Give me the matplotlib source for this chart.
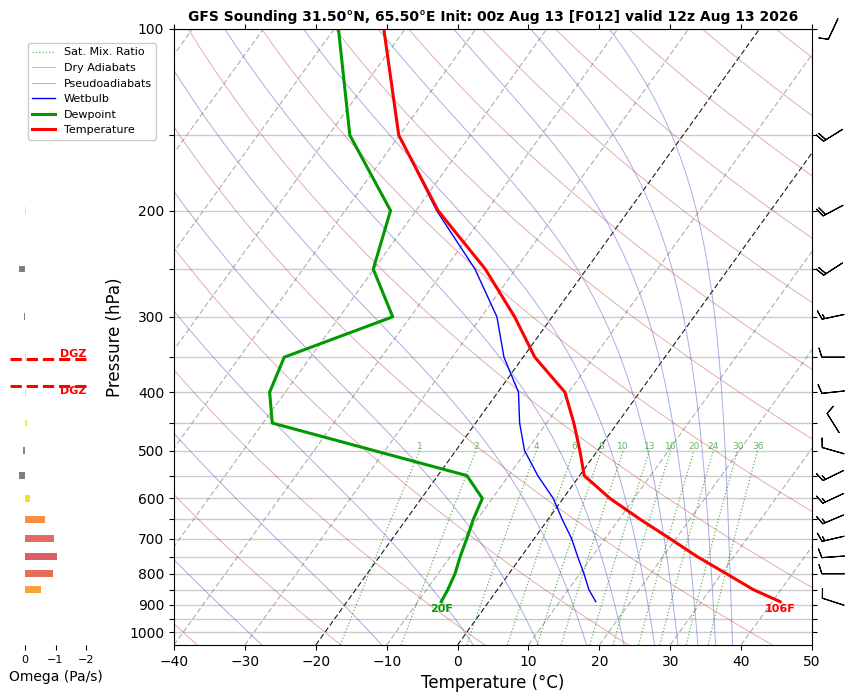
import numpy as np
import matplotlib
matplotlib.use('Agg')
from matplotlib import pyplot as plt
from matplotlib.ticker import FixedLocator, NullLocator

# ---- sounding data ----
pres = [100, 150, 200, 250, 300, 350, 400, 450, 500, 550, 600, 650, 700, 750, 800, 850, 890]
temp = [-73.0, -60.1, -46.9, -34.3, -25.3, -18.35, -10.55, -6.15, -2.5, 0.65, 6.6, 13.0, 19.2, 24.9, 30.7, 36.1, 41.1]
dewp = [-79.4, -67.0, -53.6, -50.1, -42.5, -53.7, -52.2, -48.7, -31.5, -15.9, -11.4, -10.55, -9.5, -8.6, -7.6, -7.0, -6.7]
wetb = [-73.0, -60.1, -47.1, -35.75, -27.8, -22.7, -17.1, -13.8, -10.3, -5.9, -1.4, 2.0, 5.3, 8.0, 10.6, 12.9, 15.1]

omega_p = [100, 150, 200, 250, 300, 350, 400, 450, 500, 550, 600, 650, 700, 750, 800, 850]
omega = [0.01, 0.0, -0.03, 0.2, 0.02, -0.05, -0.04, -0.08, 0.05, 0.2, -0.18, -0.67, -0.96, -1.06, -0.93, -0.54]

wind_p = [100, 150, 200, 250, 300, 350, 400, 450, 500, 550, 600, 650, 700, 750, 800, 890]
wind_dir = [205, 238, 242, 237, 258, 270, 264, 328, 286, 244, 245, 247, 257, 266, 270, 288]
wind_spd = [10, 20, 20, 20, 15, 10, 10, 10, 10, 15, 15, 15, 15, 10, 10, 10]

mix_ratios = [1, 2, 4, 6, 8, 10, 13, 16, 20, 24, 30, 36]
dry_thetas = list(range(-40, 221, 20))
pseudo_t0 = [-27.6, -10.7, 2.2, 11.4, 18.2, 23.5, 27.8, 31.1, 33.9, 36.4, 38.8]
isotherms = list(range(-120, 51, 10))

title = 'GFS Sounding 31.50\u00b0N, 65.50\u00b0E Init: 00z Aug 13 [F012] valid 12z Aug 13 2026'

P_BOT, P_TOP = 1050, 100
SKEW = 61.3


def skx(t, p):
    return np.asarray(t, float) + SKEW * np.log10(P_BOT / np.asarray(p, float))


def sat_vp(tc):
    return 6.112 * np.exp(17.67 * tc / (tc + 243.5))


def moist_rate(tk, p):
    es = sat_vp(tk - 273.15)
    rs = 0.622 * es / (p - es)
    return (287.04 * tk + 2.501e6 * rs) / (1005.7 + 2.501e6 ** 2 * rs * 0.622 / (287.04 * tk * tk))


def moist_line(t0, pp):
    lnp = np.log(pp)
    out = [t0 + 273.15]
    for i in range(len(pp) - 1):
        h = lnp[i + 1] - lnp[i]
        t = out[-1]
        p0, p1 = pp[i], pp[i + 1]
        pm = np.exp(0.5 * (lnp[i] + lnp[i + 1]))
        k1 = moist_rate(t, p0)
        k2 = moist_rate(t + 0.5 * h * k1, pm)
        k3 = moist_rate(t + 0.5 * h * k2, pm)
        k4 = moist_rate(t + h * k3, p1)
        out.append(t + h * (k1 + 2 * k2 + 2 * k3 + k4) / 6)
    return np.array(out) - 273.15


fig = plt.figure(figsize=(8.56, 6.92), dpi=100)

# ---- omega panel (added first so the legend sits above it) ----
oax = fig.add_axes([9.7 / 856, 47 / 692, 91.6 / 856, 616 / 692])
oax.set_yscale('log')
oax.set_ylim(P_BOT, P_TOP)
oax.set_xlim(0.5, -2.5)
cmap = plt.get_cmap('plasma')
cols = ['0.5' if w > 0 else cmap(1 - min(abs(w), 2.5) / 2.5) for w in omega]
oax.barh(omega_p, omega, height=[0.0256 * p for p in omega_p], color=cols)
for s in oax.spines.values():
    s.set_visible(False)
oax.yaxis.set_major_locator(NullLocator())
oax.yaxis.set_minor_locator(NullLocator())
oax.set_xticks([0, -1, -2])
oax.tick_params(axis='x', labelsize=8)
oax.set_xlabel('Omega (Pa/s)', fontsize=10)

lp = np.log10(pres)
p_dgz_top = 10 ** np.interp(-18, temp, lp)
p_dgz_bot = 10 ** np.interp(-12, temp, lp)
oax.plot([0.5, -2.0], [p_dgz_top, p_dgz_top], color='red', ls='--', lw=2.2)
oax.plot([0.5, -2.0], [p_dgz_bot, p_dgz_bot], color='red', ls='--', lw=2.2)
oax.text(-2.0, p_dgz_top, 'DGZ', color='red', fontsize=8, fontweight='bold', ha='right', va='bottom')
oax.text(-2.0, p_dgz_bot, 'DGZ', color='red', fontsize=8, fontweight='bold', ha='right', va='top')

# ---- skew-T ----
ax = fig.add_axes([174 / 856, 47 / 692, 638 / 856, 616 / 692])
ax.set_yscale('log')

pp = np.linspace(P_BOT, P_TOP, 120)

for t in isotherms:
    if t in (0, -20):
        ax.plot(skx(np.full_like(pp, t), pp), pp, color='k', lw=0.8, ls=(0, (4.8, 2.4)), alpha=0.9)
    else:
        ax.plot(skx(np.full_like(pp, t), pp), pp, color='0.55', lw=0.8, ls=(0, (4.8, 2.4)), alpha=0.7)

handles = []
pm = np.linspace(P_BOT, 500, 60)
for i, w in enumerate(mix_ratios):
    e = (w / 1000.) * pm / (0.622 + w / 1000.)
    le = np.log(e / 6.112)
    td = 243.5 * le / (17.67 - le)
    ln, = ax.plot(skx(td, pm), pm, color='g', ls=':', lw=0.9, alpha=0.6, label='Sat. Mix. Ratio')
    ax.text(skx(td[-1], 500), 500, str(w), color='g', alpha=0.6, fontsize=6.5,
            ha='center', va='bottom')
handles.append(ln)

for th in dry_thetas:
    tt = (th + 273.15) * (pp / 1000.) ** 0.2857 - 273.15
    ln, = ax.plot(skx(tt, pp), pp, color='#c03030', lw=0.7, alpha=0.4, label='Dry Adiabats')
handles.append(ln)

for t0 in pseudo_t0:
    tt = moist_line(t0, pp)
    ln, = ax.plot(skx(tt, pp), pp, color='#3030c0', lw=0.7, alpha=0.4, label='Pseudoadiabats')
handles.append(ln)

handles.append(ax.plot(skx(wetb, pres), pres, color='blue', lw=1, label='Wetbulb')[0])
handles.append(ax.plot(skx(dewp, pres), pres, color='#009900', lw=2.2, label='Dewpoint')[0])
handles.append(ax.plot(skx(temp, pres), pres, color='red', lw=2.2, label='Temperature')[0])

ax.annotate('%dF' % round(dewp[-1] * 9 / 5 + 32), (skx(dewp[-1], pres[-1]), pres[-1]),
            xytext=(0, -2), textcoords='offset points', ha='center', va='top',
            color='#009900', fontsize=8, fontweight='bold')
ax.annotate('%dF' % round(temp[-1] * 9 / 5 + 32), (skx(temp[-1], pres[-1]), pres[-1]),
            xytext=(0, -2), textcoords='offset points', ha='center', va='top',
            color='red', fontsize=8, fontweight='bold')

ax.set_ylim(P_BOT, P_TOP)
ax.set_xlim(-40, 50)
yt = list(range(100, 1001, 50))
ax.yaxis.set_major_locator(FixedLocator(yt))
ax.yaxis.set_minor_locator(NullLocator())
ax.set_yticklabels([str(p) if p % 100 == 0 else '' for p in yt])
ax.set_xticks(range(-40, 51, 10))
ax.tick_params(top=True, right=True, labelsize=10)
ax.grid(axis='y', color='#cccccc', lw=1)
ax.set_xlabel('Temperature (\u00b0C)', fontsize=12)
ax.set_ylabel('Pressure (hPa)', fontsize=12)
ax.set_title(title, fontsize=10, fontweight='bold')

fig.legend(handles=handles, loc='upper left', bbox_to_anchor=(28 / 856, 1 - 43 / 692),
           bbox_transform=fig.transFigure, fontsize=8, borderaxespad=0, framealpha=1)

# ---- wind barbs ----
bax = fig.add_axes([812 / 856, 47 / 692, 44 / 856, 616 / 692])
bax.set_yscale('log')
bax.set_ylim(P_BOT, P_TOP)
bax.set_xlim(0, 1)
bax.axis('off')
rad = np.deg2rad(wind_dir)
u = -np.array(wind_spd) * np.sin(rad)
v = -np.array(wind_spd) * np.cos(rad)
bax.barbs(np.full(len(wind_p), 0.48), wind_p, u, v, length=5.7, pivot='middle', lw=0.8,
          clip_on=False)

plt.savefig('out.png', dpi=100)
